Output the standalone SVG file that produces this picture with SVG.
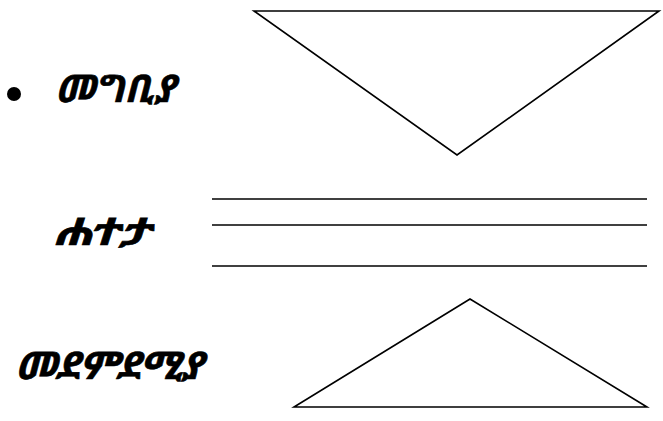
<svg xmlns="http://www.w3.org/2000/svg" width="663" height="421" viewBox="0 0 663 421">
<style>
.shape{fill:none;stroke:#000;stroke-width:1.6}
.lbl{font-family:"Noto Sans Ethiopic","Abyssinica SIL","Noto Serif Ethiopic","DejaVu Sans",sans-serif;font-size:38px;font-weight:bold;font-style:italic;fill:#000;stroke:#000;stroke-width:0.6}
</style>
<rect width="663" height="421" fill="#fff"/>
<g id="intro">
<circle cx="14" cy="94" r="7" fill="#000"/>
<text class="lbl" x="55" y="102" textLength="120" lengthAdjust="spacingAndGlyphs">መግቢያ</text>
<polygon class="shape" points="254,11 659,11 457,155"/>
</g>
<g id="body">
<text class="lbl" x="53" y="245" textLength="97" lengthAdjust="spacingAndGlyphs">ሐተታ</text>
<line class="shape" x1="212" y1="199" x2="647" y2="199"/>
<line class="shape" x1="212" y1="225" x2="647" y2="225"/>
<line class="shape" x1="212" y1="266" x2="647" y2="266"/>
</g>
<g id="conclusion">
<text class="lbl" x="15" y="379" textLength="188" lengthAdjust="spacingAndGlyphs">መደምደሚያ</text>
<polygon class="shape" points="470,299 647,407 294,407"/>
</g>
<g id="connectors"></g>
</svg>
